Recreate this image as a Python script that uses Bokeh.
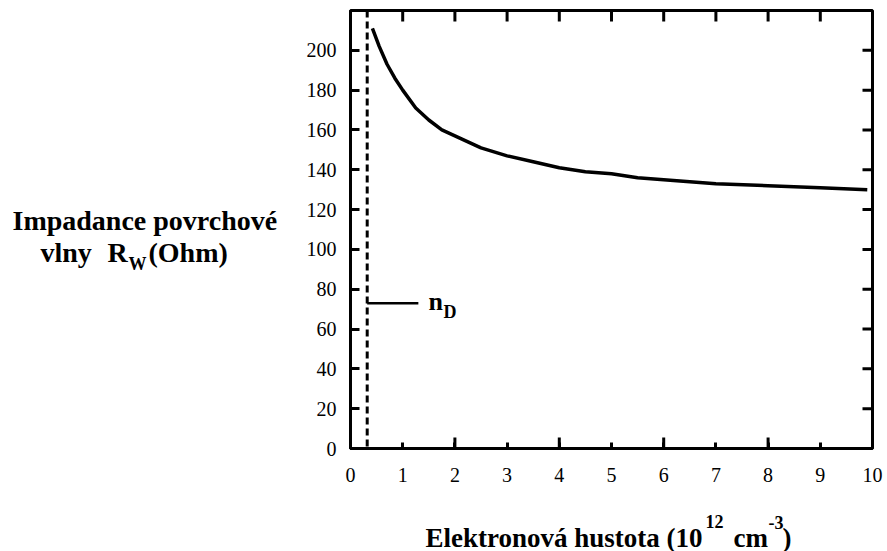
import math
from bokeh.plotting import figure
from bokeh.layouts import row, column
from bokeh.models import FixedTicker, Span, Label, Range1d
from bokeh.embed import file_html
from bokeh.resources import INLINE

# ---- data ----
density = [0.42, 0.55, 0.70, 0.85, 1.00, 1.25, 1.50, 1.75, 2.00, 2.50, 3.00,
           3.50, 4.00, 4.50, 5.00, 5.50, 6.00, 7.00, 8.00, 9.00, 9.90]
impedance = [211, 202, 193, 186, 180, 171, 165, 160, 157, 151, 147,
             144, 141, 139, 138, 136, 135, 133, 132, 131, 130]
x_ticks = [0, 1, 2, 3, 4, 5, 6, 7, 8, 9, 10]
x_long_ticks = [0, 2, 4, 6, 8, 10]
y_ticks = [0, 20, 40, 60, 80, 100, 120, 140, 160, 180, 200]
n_d = 0.32                 # position of n_D (dashed line)
n_d_mark_x = [0.32, 1.30]  # short marker line pointing to the n_D label
n_d_mark_y = [73, 73]

# ---- layout (page pixels) ----
W, H = 887, 551
LW = 290                  # width of the left title strip
FL, FR, FT, FB = 350, 872, 10, 448   # plot frame in page pixels
MH = 500                  # height of the main plot
X0, X1, Y0, Y1 = 0, 10, 0, 220
SERIF = "Liberation Serif"
BASE_SHIFT = 9            # label anchor sits this far above the drawn baseline


def blank_fig(w, h, bl, br, bt, bb, x0, x1, y0, y1):
    """Text strip; data coordinates equal page pixels (y downwards)."""
    f = figure(title=None, width=w, height=h,
               x_range=Range1d(x0, x1), y_range=Range1d(y0, y1),
               output_backend="svg", toolbar_location=None,
               x_axis_type=None, y_axis_type=None,
               min_border_left=bl, min_border_right=br,
               min_border_top=bt, min_border_bottom=bb,
               background_fill_color="white", border_fill_color="white")
    f.grid.visible = False
    f.outline_line_color = None
    return f


def lab(fig, x, y, text, size, bold=True):
    fig.add_layout(Label(x=x, y=y, text=text, text_font=SERIF,
                         text_font_style="bold" if bold else "normal",
                         text_font_size=size, text_color="black",
                         text_align="left", text_baseline="alphabetic"))


# ---- main plot ----
p = figure(title=None, width=W - LW, height=MH,
           x_range=Range1d(X0, X1), y_range=Range1d(Y0, Y1),
           output_backend="svg", toolbar_location=None,
           min_border_left=FL - LW, min_border_right=W - FR,
           min_border_top=FT, min_border_bottom=MH - FB,
           background_fill_color="white", border_fill_color="white")
p.grid.visible = False
p.outline_line_color = "black"
p.outline_line_width = 3


def style_axis(ax, ticks, tick_len):
    ax.ticker = FixedTicker(ticks=ticks, minor_ticks=[])
    ax.axis_line_color = "black"
    ax.axis_line_width = 3
    ax.major_tick_in = tick_len
    ax.major_tick_out = 0
    ax.major_tick_line_width = 3
    ax.major_tick_line_color = "black"
    ax.minor_tick_line_color = None
    ax.major_label_text_font = SERIF
    ax.major_label_text_color = "black"
    ax.major_label_text_font_size = "20px"


style_axis(p.below[0], x_ticks, 6)
p.below[0].major_label_standoff = 19
style_axis(p.left[0], y_ticks, 9)
p.left[0].major_label_standoff = 14

# inner tick marks on the top, right and the longer even ticks at the bottom
# (half-clipped dash markers sitting on the frame edge)
p.scatter(x_ticks, [Y1] * len(x_ticks), marker="dash", size=22, angle=math.pi / 2,
          line_color="black", line_width=3)
p.scatter([X1] * len(y_ticks), y_ticks, marker="dash", size=20,
          line_color="black", line_width=3)
p.scatter(x_long_ticks, [Y0] * len(x_long_ticks), marker="dash", size=22,
          angle=math.pi / 2, line_color="black", line_width=3)

# curve
p.line(density, impedance, line_color="black", line_width=3.5)

# dashed n_D line and marker
p.add_layout(Span(location=n_d, dimension="height", line_color="black",
                  line_width=3, line_dash="7 4"))
p.line(n_d_mark_x, n_d_mark_y, line_color="black", line_width=2.5)


def dx(px):
    return X0 + (px - FL) / (FR - FL) * (X1 - X0)


def dy(py):
    return Y0 + (FB - py) / (FB - FT) * (Y1 - Y0)


lab(p, dx(428), dy(310 - BASE_SHIFT), "n", "26px")
lab(p, dx(443), dy(320 - BASE_SHIFT), "D", "18px")

# ---- left strip: y axis title (borders match the main plot's top border) ----
left = blank_fig(LW, H, 0, 0, FT, 0, 0, LW, H, FT)
lab(left, 12, 229 - BASE_SHIFT, "Impadance povrchové", "28px")
lab(left, 40, 261 - BASE_SHIFT, "vlny", "28px")
lab(left, 107, 261 - BASE_SHIFT, "R", "28px")
lab(left, 128, 272 - BASE_SHIFT, "W", "18px")
lab(left, 148, 261 - BASE_SHIFT, "(Ohm)", "28px")

# ---- bottom strip: x axis title (borders match the main plot's sides) ----
bottom = blank_fig(W - LW, H - MH, FL - LW, W - FR, 0, 0, FL, FR, H, MH)
lab(bottom, 425, 546 - BASE_SHIFT, "Elektronová hustota (10", "27px")
lab(bottom, 705, 530 - BASE_SHIFT, "12", "18px")
lab(bottom, 733, 546 - BASE_SHIFT, "cm", "27px")
lab(bottom, 768, 531 - BASE_SHIFT, "-3", "18px")
lab(bottom, 782, 546 - BASE_SHIFT, ")", "27px")

layout = row(left, column(p, bottom))
open("out.html", "w").write(file_html(layout, INLINE))
